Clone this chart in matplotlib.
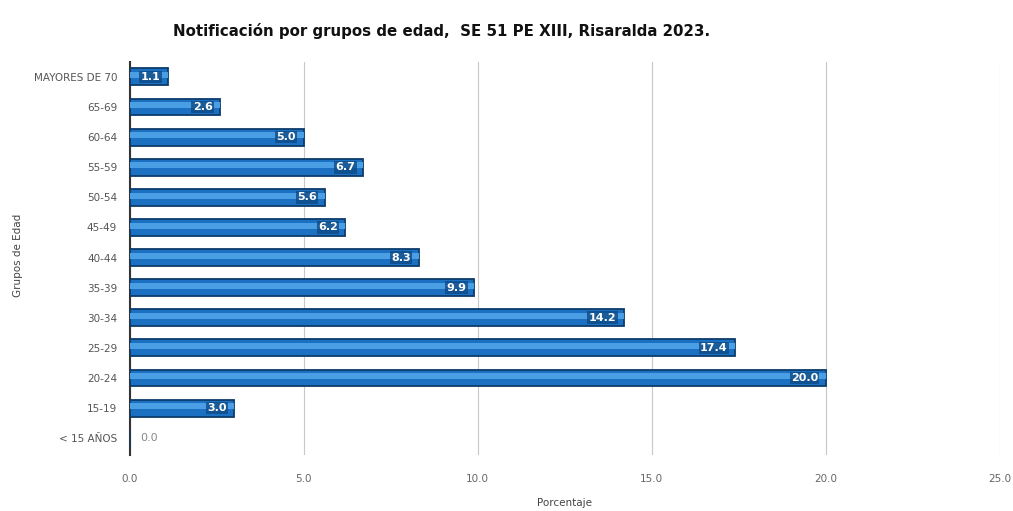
import matplotlib
matplotlib.use("Agg")
import matplotlib.pyplot as plt

categories = ["< 15 AÑOS", "15-19", "20-24", "25-29", "30-34", "35-39", "40-44",
              "45-49", "50-54", "55-59", "60-64", "65-69", "MAYORES DE 70"]
values = [0.0, 3.0, 20.0, 17.4, 14.2, 9.9, 8.3, 6.2, 5.6, 6.7, 5.0, 2.6, 1.1]
xticks = [0.0, 5.0, 10.0, 15.0, 20.0, 25.0]

font = "DejaVu Sans"

fig = plt.figure(figsize=(10.13, 5.11), dpi=100)
ax = fig.add_axes([0.128, 0.110, 0.859, 0.769])

y = list(range(len(categories)))
ax.barh(y, values, height=0.56, color="#1b70c2", edgecolor="#0c3b6b", linewidth=1.3, zorder=3)
ax.barh([v + 0.06 for v in y], values, height=0.2, color="#4a9fe4", linewidth=0, zorder=4)

for yi, v in zip(y, values):
    if v > 0:
        ax.text(v - 0.22, yi, f"{v:.1f}", ha="right", va="center", color="white",
                fontsize=8, fontweight="bold", family=font, zorder=6,
                bbox=dict(boxstyle="square,pad=0.12", fc="#0e4a85", ec="none", alpha=0.8))
    else:
        ax.text(0.3, yi, f"{v:.1f}", ha="left", va="center", color="#888888",
                fontsize=8, family=font, zorder=6)

ax.set_xlim(0, 25)
ax.set_ylim(-0.55, len(categories) - 0.5)
ax.set_xticks(xticks)
ax.set_xticklabels([f"{t:.1f}" for t in xticks], color="#666666", fontsize=7.5, family=font)
ax.set_yticks(y)
ax.set_yticklabels(categories, color="#555555", fontsize=7.5, family=font)
ax.tick_params(axis="y", length=0, pad=9)
ax.tick_params(axis="x", length=0, pad=14)
ax.grid(axis="x", color="#c8c8c8", linewidth=0.8, zorder=0)
for s in ["top", "right", "bottom"]:
    ax.spines[s].set_visible(False)
ax.spines["left"].set_color("#333333")
ax.spines["left"].set_linewidth(1.5)

ax.set_xlabel("Porcentaje", fontsize=7.5, color="#444444", labelpad=10)
fig.text(0.018, 0.5, "Grupos de Edad", rotation=90, ha="center", va="center", fontsize=7.5, color="#444444")
fig.text(0.436, 0.94, "Notificación por grupos de edad,  SE 51 PE XIII, Risaralda 2023.",
         ha="center", va="center", fontsize=10.8, fontweight="bold", family=font, color="#111111")

fig.savefig("out.png", dpi=100)
